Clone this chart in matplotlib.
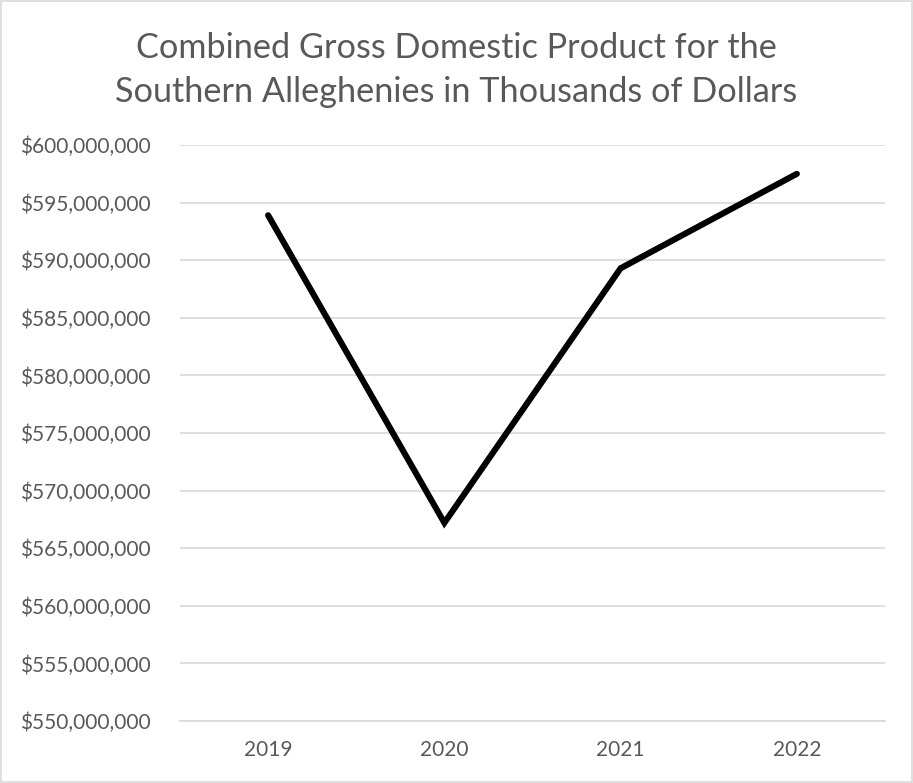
import matplotlib.pyplot as plt
from matplotlib.ticker import FuncFormatter
from matplotlib.patches import Rectangle

years = ['2019', '2020', '2021', '2022']
gdp = [593.9e6, 567.2e6, 589.3e6, 597.5e6]

plt.rcParams['font.family'] = ['Lato', 'DejaVu Sans']

fig = plt.figure(figsize=(9.13, 7.83), dpi=100)
ax = fig.add_axes([180/913, 1 - 721/783, 705/913, (721-145)/783])

ax.plot(range(len(years)), gdp, color='black', lw=4.4, solid_capstyle='round', solid_joinstyle='miter')

ax.set_xlim(-0.5, len(years) - 0.5)
ax.set_ylim(550e6, 600e6)
ax.set_yticks([550e6 + 5e6*i for i in range(11)])
ax.yaxis.set_major_formatter(FuncFormatter(lambda v, p: '${:,.0f}'.format(v)))
ax.set_xticks(range(len(years)))
ax.set_xticklabels(years)

ax.grid(axis='y', color='#d9d9d9', lw=1.2)
ax.set_axisbelow(True)
for s in ['top', 'right', 'left']:
    ax.spines[s].set_visible(False)
ax.spines['bottom'].set_color('#d9d9d9')
ax.spines['bottom'].set_linewidth(1.2)
ax.tick_params(length=0, labelsize=15, colors='#595959', pad=14)
ax.tick_params(axis='y', pad=21)

fig.text(0.5, 1 - 70/783, 'Combined Gross Domestic Product for the\nSouthern Alleghenies in Thousands of Dollars',
         ha='center', va='center', fontsize=24.7, color='#595959', linespacing=1.45)

fig.patches.append(Rectangle((0.001, 0.001), 0.998, 0.998, transform=fig.transFigure,
                             fill=False, edgecolor='#d9d9d9', lw=1.2))

fig.savefig('out.png', dpi=100)
